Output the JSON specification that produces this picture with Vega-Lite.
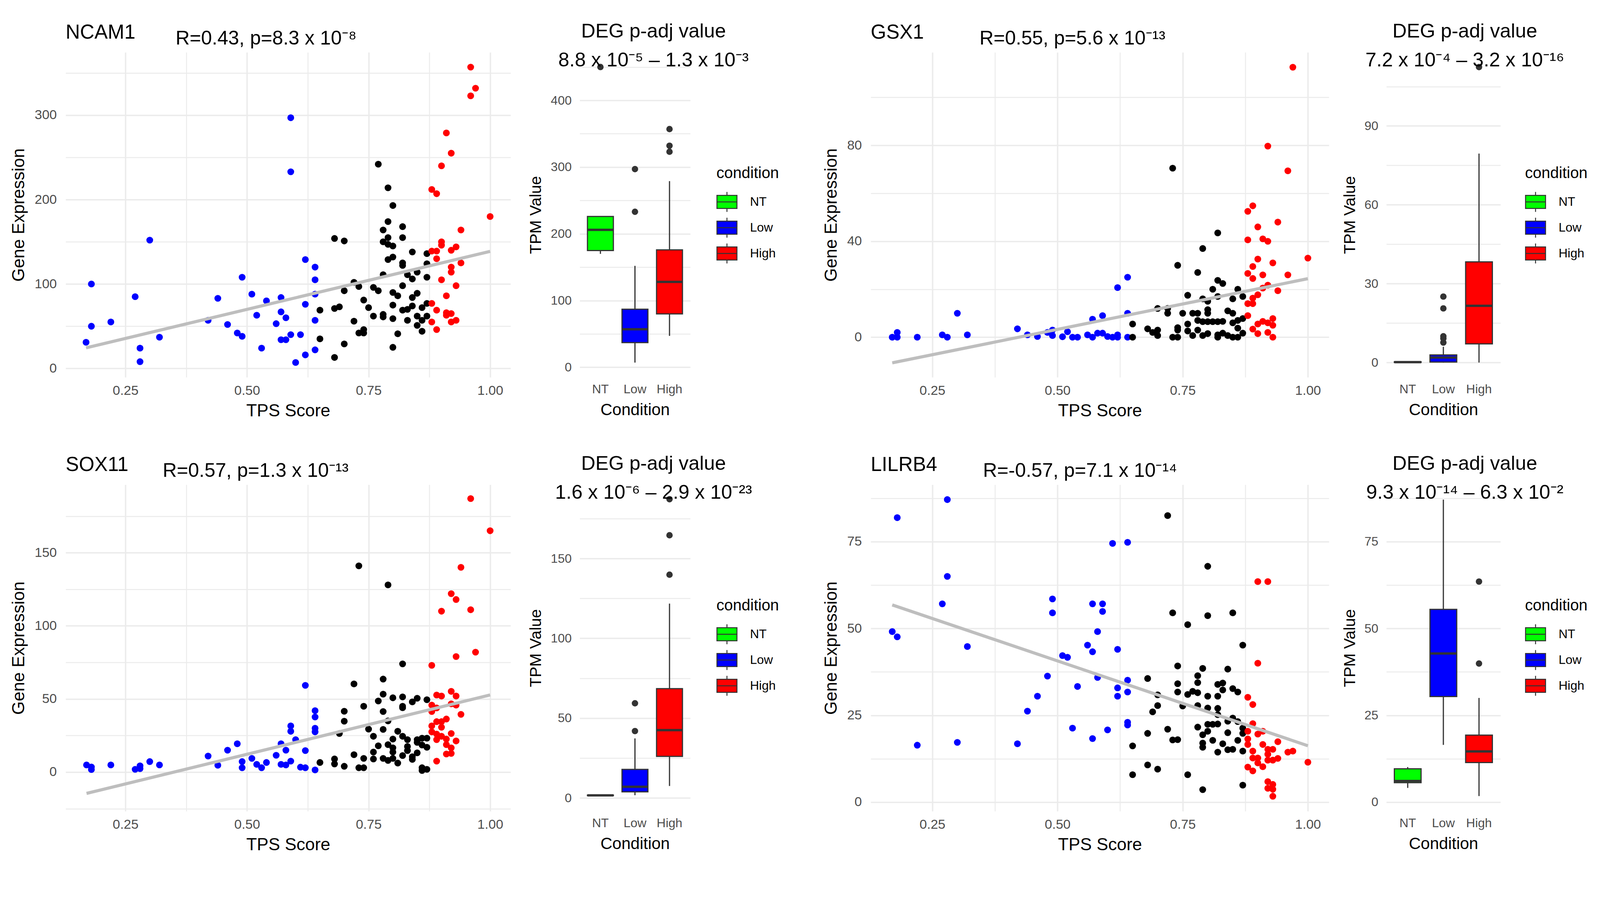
{
  "$schema": "https://vega.github.io/schema/vega-lite/v6.json",
  "padding": {"left": 25, "top": 55, "right": 0, "bottom": 0},
  "config": {
    "font": "Liberation Sans",
    "view": {"stroke": null},
    "axis": {"domain": false, "ticks": false, "tickSize": 0, "gridColor": "#EBEBEB", "labelColor": "#4D4D4D", "titleColor": "#000000", "titleFontWeight": "normal", "labelOverlap": false, "labelFlush": false},
    "title": {"fontWeight": "normal", "color": "#000000"},
    "legend": {"symbolType": "M-1,-0.65H1V0.65H-1Z M0,-0.65V-1 M0,0.65V1 M-1,0H1", "symbolSize": 2624, "symbolStrokeColor": "#333333", "symbolStrokeWidth": 2.5, "symbolOpacity": 1, "titleFontSize": 40, "titleFontWeight": "normal", "titleColor": "#000000", "labelFontSize": 32, "labelColor": "#000000", "rowPadding": 4, "labelOffset": 32, "titlePadding": 26, "padding": 0}
  },
  "datasets": {
    "ncam1": [
      {"t":0.169,"e":31,"g":"Low"},{"t":0.18,"e":100,"g":"Low"},{"t":0.18,"e":50,"g":"Low"},{"t":0.22,"e":55,"g":"Low"},{"t":0.27,"e":85,"g":"Low"},{"t":0.28,"e":24,"g":"Low"},{"t":0.28,"e":8,"g":"Low"},{"t":0.30,"e":152,"g":"Low"},{"t":0.32,"e":37,"g":"Low"},{"t":0.42,"e":57,"g":"Low"},{"t":0.44,"e":83,"g":"Low"},{"t":0.46,"e":52,"g":"Low"},{"t":0.48,"e":42,"g":"Low"},{"t":0.49,"e":108,"g":"Low"},{"t":0.49,"e":38,"g":"Low"},{"t":0.51,"e":88,"g":"Low"},{"t":0.52,"e":63,"g":"Low"},{"t":0.53,"e":24,"g":"Low"},{"t":0.54,"e":80,"g":"Low"},{"t":0.56,"e":53,"g":"Low"},{"t":0.57,"e":84,"g":"Low"},{"t":0.57,"e":67,"g":"Low"},{"t":0.57,"e":34,"g":"Low"},{"t":0.58,"e":60,"g":"Low"},{"t":0.58,"e":34,"g":"Low"},{"t":0.59,"e":297,"g":"Low"},{"t":0.59,"e":233,"g":"Low"},{"t":0.59,"e":40,"g":"Low"},{"t":0.60,"e":7,"g":"Low"},{"t":0.61,"e":40,"g":"Low"},{"t":0.62,"e":129,"g":"Low"},{"t":0.62,"e":76,"g":"Low"},{"t":0.62,"e":16,"g":"Low"},{"t":0.64,"e":120,"g":"Low"},{"t":0.64,"e":105,"g":"Low"},{"t":0.64,"e":88,"g":"Low"},{"t":0.64,"e":57,"g":"Low"},{"t":0.64,"e":22,"g":"Low"},
      {"t":0.65,"e":69,"g":"Mid"},{"t":0.65,"e":35,"g":"Mid"},{"t":0.68,"e":154,"g":"Mid"},{"t":0.68,"e":71,"g":"Mid"},{"t":0.68,"e":13,"g":"Mid"},{"t":0.69,"e":73,"g":"Mid"},{"t":0.70,"e":151,"g":"Mid"},{"t":0.70,"e":92,"g":"Mid"},{"t":0.70,"e":29,"g":"Mid"},{"t":0.72,"e":102,"g":"Mid"},{"t":0.72,"e":56,"g":"Mid"},{"t":0.73,"e":97,"g":"Mid"},{"t":0.73,"e":42,"g":"Mid"},{"t":0.74,"e":81,"g":"Mid"},{"t":0.74,"e":46,"g":"Mid"},{"t":0.74,"e":42,"g":"Mid"},{"t":0.75,"e":72,"g":"Mid"},{"t":0.76,"e":96,"g":"Mid"},{"t":0.76,"e":62,"g":"Mid"},{"t":0.77,"e":92,"g":"Mid"},{"t":0.77,"e":242,"g":"Mid"},{"t":0.78,"e":164,"g":"Mid"},{"t":0.78,"e":150,"g":"Mid"},{"t":0.78,"e":111,"g":"Mid"},{"t":0.78,"e":64,"g":"Mid"},{"t":0.78,"e":61,"g":"Mid"},{"t":0.79,"e":214,"g":"Mid"},{"t":0.79,"e":174,"g":"Mid"},{"t":0.79,"e":155,"g":"Mid"},{"t":0.79,"e":147,"g":"Mid"},{"t":0.79,"e":129,"g":"Mid"},{"t":0.80,"e":193,"g":"Mid"},{"t":0.80,"e":145,"g":"Mid"},{"t":0.80,"e":132,"g":"Mid"},{"t":0.80,"e":90,"g":"Mid"},{"t":0.80,"e":75,"g":"Mid"},{"t":0.80,"e":59,"g":"Mid"},{"t":0.80,"e":25,"g":"Mid"},{"t":0.81,"e":86,"g":"Mid"},{"t":0.81,"e":41,"g":"Mid"},{"t":0.82,"e":168,"g":"Mid"},{"t":0.82,"e":155,"g":"Mid"},{"t":0.82,"e":125,"g":"Mid"},{"t":0.82,"e":122,"g":"Mid"},{"t":0.82,"e":98,"g":"Mid"},{"t":0.82,"e":69,"g":"Mid"},{"t":0.83,"e":70,"g":"Mid"},{"t":0.83,"e":57,"g":"Mid"},{"t":0.83,"e":111,"g":"Mid"},{"t":0.84,"e":138,"g":"Mid"},{"t":0.84,"e":106,"g":"Mid"},{"t":0.84,"e":84,"g":"Mid"},{"t":0.84,"e":74,"g":"Mid"},{"t":0.85,"e":114,"g":"Mid"},{"t":0.85,"e":89,"g":"Mid"},{"t":0.85,"e":62,"g":"Mid"},{"t":0.85,"e":51,"g":"Mid"},{"t":0.86,"e":72,"g":"Mid"},{"t":0.86,"e":57,"g":"Mid"},{"t":0.86,"e":44,"g":"Mid"},{"t":0.87,"e":136,"g":"Mid"},{"t":0.87,"e":124,"g":"Mid"},{"t":0.87,"e":108,"g":"Mid"},{"t":0.87,"e":77,"g":"Mid"},{"t":0.87,"e":62,"g":"Mid"},
      {"t":0.88,"e":212,"g":"High"},{"t":0.88,"e":139,"g":"High"},{"t":0.88,"e":77,"g":"High"},{"t":0.88,"e":55,"g":"High"},{"t":0.89,"e":207,"g":"High"},{"t":0.89,"e":139,"g":"High"},{"t":0.89,"e":130,"g":"High"},{"t":0.89,"e":69,"g":"High"},{"t":0.89,"e":46,"g":"High"},{"t":0.90,"e":240,"g":"High"},{"t":0.90,"e":150,"g":"High"},{"t":0.90,"e":146,"g":"High"},{"t":0.90,"e":105,"g":"High"},{"t":0.91,"e":279,"g":"High"},{"t":0.91,"e":86,"g":"High"},{"t":0.91,"e":66,"g":"High"},{"t":0.91,"e":63,"g":"High"},{"t":0.92,"e":255,"g":"High"},{"t":0.92,"e":140,"g":"High"},{"t":0.92,"e":120,"g":"High"},{"t":0.92,"e":114,"g":"High"},{"t":0.92,"e":65,"g":"High"},{"t":0.92,"e":55,"g":"High"},{"t":0.93,"e":144,"g":"High"},{"t":0.93,"e":98,"g":"High"},{"t":0.93,"e":57,"g":"High"},{"t":0.94,"e":164,"g":"High"},{"t":0.94,"e":125,"g":"High"},{"t":0.96,"e":357,"g":"High"},{"t":0.96,"e":323,"g":"High"},{"t":0.97,"e":332,"g":"High"},{"t":1.00,"e":180,"g":"High"}
    ],
    "gsx1": [
      {"t":0.17,"e":0,"g":"Low"},{"t":0.18,"e":0,"g":"Low"},{"t":0.18,"e":2,"g":"Low"},{"t":0.22,"e":0,"g":"Low"},{"t":0.27,"e":1,"g":"Low"},{"t":0.28,"e":0,"g":"Low"},{"t":0.30,"e":10,"g":"Low"},{"t":0.32,"e":1,"g":"Low"},{"t":0.42,"e":3.5,"g":"Low"},{"t":0.44,"e":1,"g":"Low"},{"t":0.46,"e":0.3,"g":"Low"},{"t":0.48,"e":2,"g":"Low"},{"t":0.49,"e":3,"g":"Low"},{"t":0.49,"e":0.7,"g":"Low"},{"t":0.51,"e":0.2,"g":"Low"},{"t":0.52,"e":2.3,"g":"Low"},{"t":0.53,"e":0,"g":"Low"},{"t":0.54,"e":0,"g":"Low"},{"t":0.56,"e":1,"g":"Low"},{"t":0.57,"e":7.5,"g":"Low"},{"t":0.57,"e":0,"g":"Low"},{"t":0.58,"e":1.7,"g":"Low"},{"t":0.59,"e":9,"g":"Low"},{"t":0.59,"e":1.7,"g":"Low"},{"t":0.60,"e":0.3,"g":"Low"},{"t":0.61,"e":0,"g":"Low"},{"t":0.62,"e":20.7,"g":"Low"},{"t":0.62,"e":1,"g":"Low"},{"t":0.62,"e":0,"g":"Low"},{"t":0.64,"e":25,"g":"Low"},{"t":0.64,"e":10,"g":"Low"},{"t":0.64,"e":0,"g":"Low"},
      {"t":0.65,"e":5.5,"g":"Mid"},{"t":0.65,"e":0,"g":"Mid"},{"t":0.68,"e":3.5,"g":"Mid"},{"t":0.69,"e":2,"g":"Mid"},{"t":0.70,"e":12,"g":"Mid"},{"t":0.70,"e":3,"g":"Mid"},{"t":0.70,"e":0.7,"g":"Mid"},{"t":0.72,"e":12,"g":"Mid"},{"t":0.72,"e":10,"g":"Mid"},{"t":0.73,"e":70.5,"g":"Mid"},{"t":0.73,"e":0,"g":"Mid"},{"t":0.74,"e":30,"g":"Mid"},{"t":0.74,"e":4,"g":"Mid"},{"t":0.74,"e":3,"g":"Mid"},{"t":0.74,"e":0,"g":"Mid"},{"t":0.75,"e":10,"g":"Mid"},{"t":0.76,"e":17.5,"g":"Mid"},{"t":0.76,"e":5.5,"g":"Mid"},{"t":0.76,"e":2.6,"g":"Mid"},{"t":0.77,"e":10,"g":"Mid"},{"t":0.77,"e":0.7,"g":"Mid"},{"t":0.78,"e":27,"g":"Mid"},{"t":0.78,"e":10,"g":"Mid"},{"t":0.78,"e":7,"g":"Mid"},{"t":0.78,"e":3,"g":"Mid"},{"t":0.79,"e":37,"g":"Mid"},{"t":0.79,"e":16,"g":"Mid"},{"t":0.79,"e":6.5,"g":"Mid"},{"t":0.79,"e":0.7,"g":"Mid"},{"t":0.80,"e":15,"g":"Mid"},{"t":0.80,"e":11.5,"g":"Mid"},{"t":0.80,"e":10,"g":"Mid"},{"t":0.80,"e":6.5,"g":"Mid"},{"t":0.80,"e":1.5,"g":"Mid"},{"t":0.81,"e":20,"g":"Mid"},{"t":0.81,"e":6.5,"g":"Mid"},{"t":0.82,"e":43.5,"g":"Mid"},{"t":0.82,"e":23.7,"g":"Mid"},{"t":0.82,"e":17,"g":"Mid"},{"t":0.82,"e":6.5,"g":"Mid"},{"t":0.82,"e":1,"g":"Mid"},{"t":0.82,"e":0,"g":"Mid"},{"t":0.83,"e":22.4,"g":"Mid"},{"t":0.83,"e":6.6,"g":"Mid"},{"t":0.83,"e":1.7,"g":"Mid"},{"t":0.84,"e":11,"g":"Mid"},{"t":0.84,"e":0.7,"g":"Mid"},{"t":0.85,"e":16,"g":"Mid"},{"t":0.85,"e":10,"g":"Mid"},{"t":0.85,"e":6,"g":"Mid"},{"t":0.85,"e":0,"g":"Mid"},{"t":0.86,"e":20,"g":"Mid"},{"t":0.86,"e":7,"g":"Mid"},{"t":0.86,"e":3.8,"g":"Mid"},{"t":0.86,"e":0,"g":"Mid"},{"t":0.87,"e":17,"g":"Mid"},{"t":0.87,"e":7.8,"g":"Mid"},{"t":0.87,"e":1.7,"g":"Mid"},
      {"t":0.88,"e":52.5,"g":"High"},{"t":0.88,"e":40.6,"g":"High"},{"t":0.88,"e":26.6,"g":"High"},{"t":0.88,"e":14,"g":"High"},{"t":0.88,"e":9,"g":"High"},{"t":0.89,"e":54.8,"g":"High"},{"t":0.89,"e":29.5,"g":"High"},{"t":0.89,"e":24.5,"g":"High"},{"t":0.89,"e":16.3,"g":"High"},{"t":0.89,"e":14,"g":"High"},{"t":0.89,"e":3.4,"g":"High"},{"t":0.90,"e":46,"g":"High"},{"t":0.90,"e":32.6,"g":"High"},{"t":0.90,"e":17.7,"g":"High"},{"t":0.90,"e":5.5,"g":"High"},{"t":0.90,"e":1.5,"g":"High"},{"t":0.91,"e":41,"g":"High"},{"t":0.91,"e":26,"g":"High"},{"t":0.91,"e":20.5,"g":"High"},{"t":0.91,"e":6.6,"g":"High"},{"t":0.92,"e":79.7,"g":"High"},{"t":0.92,"e":40,"g":"High"},{"t":0.92,"e":21.7,"g":"High"},{"t":0.92,"e":6,"g":"High"},{"t":0.92,"e":2,"g":"High"},{"t":0.93,"e":31,"g":"High"},{"t":0.93,"e":7.8,"g":"High"},{"t":0.93,"e":5,"g":"High"},{"t":0.93,"e":0,"g":"High"},{"t":0.94,"e":48,"g":"High"},{"t":0.94,"e":19.4,"g":"High"},{"t":0.96,"e":69.4,"g":"High"},{"t":0.96,"e":26,"g":"High"},{"t":0.97,"e":112.6,"g":"High"},{"t":1.00,"e":33,"g":"High"}
    ],
    "sox11": [
      {"t":0.17,"e":4.9,"g":"Low"},{"t":0.18,"e":3.5,"g":"Low"},{"t":0.18,"e":1.8,"g":"Low"},{"t":0.22,"e":4.9,"g":"Low"},{"t":0.27,"e":1.9,"g":"Low"},{"t":0.28,"e":4.3,"g":"Low"},{"t":0.28,"e":2.4,"g":"Low"},{"t":0.30,"e":7.2,"g":"Low"},{"t":0.32,"e":4.9,"g":"Low"},{"t":0.42,"e":11,"g":"Low"},{"t":0.44,"e":4.7,"g":"Low"},{"t":0.46,"e":15,"g":"Low"},{"t":0.48,"e":19.4,"g":"Low"},{"t":0.49,"e":7.2,"g":"Low"},{"t":0.49,"e":3,"g":"Low"},{"t":0.51,"e":9.4,"g":"Low"},{"t":0.52,"e":5.3,"g":"Low"},{"t":0.53,"e":3,"g":"Low"},{"t":0.54,"e":6.6,"g":"Low"},{"t":0.56,"e":11.5,"g":"Low"},{"t":0.57,"e":19.4,"g":"Low"},{"t":0.57,"e":5.3,"g":"Low"},{"t":0.58,"e":15,"g":"Low"},{"t":0.58,"e":4.9,"g":"Low"},{"t":0.59,"e":31.6,"g":"Low"},{"t":0.59,"e":27.9,"g":"Low"},{"t":0.59,"e":7.5,"g":"Low"},{"t":0.60,"e":22.2,"g":"Low"},{"t":0.61,"e":3.4,"g":"Low"},{"t":0.62,"e":59.3,"g":"Low"},{"t":0.62,"e":14.7,"g":"Low"},{"t":0.62,"e":3,"g":"Low"},{"t":0.64,"e":42,"g":"Low"},{"t":0.64,"e":37.7,"g":"Low"},{"t":0.64,"e":30,"g":"Low"},{"t":0.64,"e":27.5,"g":"Low"},{"t":0.64,"e":1.5,"g":"Low"},
      {"t":0.65,"e":6.6,"g":"Mid"},{"t":0.68,"e":9,"g":"Mid"},{"t":0.68,"e":5.6,"g":"Mid"},{"t":0.69,"e":26.4,"g":"Mid"},{"t":0.70,"e":41.6,"g":"Mid"},{"t":0.70,"e":34.8,"g":"Mid"},{"t":0.70,"e":4,"g":"Mid"},{"t":0.72,"e":60.3,"g":"Mid"},{"t":0.72,"e":11.9,"g":"Mid"},{"t":0.73,"e":141,"g":"Mid"},{"t":0.73,"e":3,"g":"Mid"},{"t":0.74,"e":45,"g":"Mid"},{"t":0.74,"e":9.4,"g":"Mid"},{"t":0.74,"e":3,"g":"Mid"},{"t":0.75,"e":29.4,"g":"Mid"},{"t":0.76,"e":24.5,"g":"Mid"},{"t":0.76,"e":13.7,"g":"Mid"},{"t":0.76,"e":9,"g":"Mid"},{"t":0.77,"e":48.6,"g":"Mid"},{"t":0.77,"e":18,"g":"Mid"},{"t":0.78,"e":63.6,"g":"Mid"},{"t":0.78,"e":53.3,"g":"Mid"},{"t":0.78,"e":41.4,"g":"Mid"},{"t":0.78,"e":29.2,"g":"Mid"},{"t":0.78,"e":9.4,"g":"Mid"},{"t":0.79,"e":128,"g":"Mid"},{"t":0.79,"e":35,"g":"Mid"},{"t":0.79,"e":18.8,"g":"Mid"},{"t":0.79,"e":8,"g":"Mid"},{"t":0.80,"e":50.8,"g":"Mid"},{"t":0.80,"e":22.6,"g":"Mid"},{"t":0.80,"e":16.6,"g":"Mid"},{"t":0.80,"e":13.7,"g":"Mid"},{"t":0.80,"e":9.4,"g":"Mid"},{"t":0.81,"e":27.9,"g":"Mid"},{"t":0.81,"e":6.2,"g":"Mid"},{"t":0.82,"e":74,"g":"Mid"},{"t":0.82,"e":51.4,"g":"Mid"},{"t":0.82,"e":45,"g":"Mid"},{"t":0.82,"e":44,"g":"Mid"},{"t":0.82,"e":24.5,"g":"Mid"},{"t":0.82,"e":11.3,"g":"Mid"},{"t":0.83,"e":22.2,"g":"Mid"},{"t":0.83,"e":17.5,"g":"Mid"},{"t":0.83,"e":14.7,"g":"Mid"},{"t":0.84,"e":48,"g":"Mid"},{"t":0.84,"e":10.5,"g":"Mid"},{"t":0.84,"e":8.7,"g":"Mid"},{"t":0.85,"e":50.5,"g":"Mid"},{"t":0.85,"e":22.2,"g":"Mid"},{"t":0.85,"e":20.3,"g":"Mid"},{"t":0.85,"e":13.2,"g":"Mid"},{"t":0.86,"e":23.2,"g":"Mid"},{"t":0.86,"e":18.5,"g":"Mid"},{"t":0.86,"e":3,"g":"Mid"},{"t":0.86,"e":1.1,"g":"Mid"},{"t":0.87,"e":49.5,"g":"Mid"},{"t":0.87,"e":23.2,"g":"Mid"},{"t":0.87,"e":17,"g":"Mid"},{"t":0.87,"e":1.9,"g":"Mid"},
      {"t":0.88,"e":73,"g":"High"},{"t":0.88,"e":45.8,"g":"High"},{"t":0.88,"e":41.4,"g":"High"},{"t":0.88,"e":31.6,"g":"High"},{"t":0.88,"e":27.5,"g":"High"},{"t":0.89,"e":52.7,"g":"High"},{"t":0.89,"e":43.9,"g":"High"},{"t":0.89,"e":34.5,"g":"High"},{"t":0.89,"e":26,"g":"High"},{"t":0.89,"e":22.2,"g":"High"},{"t":0.89,"e":7.5,"g":"High"},{"t":0.90,"e":110,"g":"High"},{"t":0.90,"e":52,"g":"High"},{"t":0.90,"e":34.5,"g":"High"},{"t":0.90,"e":30.7,"g":"High"},{"t":0.90,"e":24.5,"g":"High"},{"t":0.91,"e":36.3,"g":"High"},{"t":0.91,"e":22.6,"g":"High"},{"t":0.91,"e":18.8,"g":"High"},{"t":0.91,"e":12.4,"g":"High"},{"t":0.92,"e":122,"g":"High"},{"t":0.92,"e":55.2,"g":"High"},{"t":0.92,"e":46.7,"g":"High"},{"t":0.92,"e":26.4,"g":"High"},{"t":0.92,"e":16.6,"g":"High"},{"t":0.92,"e":12.8,"g":"High"},{"t":0.93,"e":118,"g":"High"},{"t":0.93,"e":79,"g":"High"},{"t":0.93,"e":52,"g":"High"},{"t":0.93,"e":45.8,"g":"High"},{"t":0.93,"e":21.3,"g":"High"},{"t":0.94,"e":140,"g":"High"},{"t":0.94,"e":39.5,"g":"High"},{"t":0.96,"e":187,"g":"High"},{"t":0.96,"e":111,"g":"High"},{"t":0.97,"e":82,"g":"High"},{"t":1.00,"e":165,"g":"High"}
    ],
    "lilrb4": [
      {"t":0.17,"e":49.1,"g":"Low"},{"t":0.18,"e":81.9,"g":"Low"},{"t":0.18,"e":47.6,"g":"Low"},{"t":0.22,"e":16.4,"g":"Low"},{"t":0.27,"e":57.1,"g":"Low"},{"t":0.28,"e":87.1,"g":"Low"},{"t":0.28,"e":65,"g":"Low"},{"t":0.30,"e":17.2,"g":"Low"},{"t":0.32,"e":44.8,"g":"Low"},{"t":0.42,"e":16.8,"g":"Low"},{"t":0.44,"e":26.2,"g":"Low"},{"t":0.46,"e":30.5,"g":"Low"},{"t":0.48,"e":36.3,"g":"Low"},{"t":0.49,"e":58.5,"g":"Low"},{"t":0.49,"e":54.5,"g":"Low"},{"t":0.51,"e":42.2,"g":"Low"},{"t":0.52,"e":41.7,"g":"Low"},{"t":0.53,"e":21.3,"g":"Low"},{"t":0.54,"e":33.3,"g":"Low"},{"t":0.56,"e":45.2,"g":"Low"},{"t":0.57,"e":57.1,"g":"Low"},{"t":0.57,"e":43.3,"g":"Low"},{"t":0.57,"e":18.3,"g":"Low"},{"t":0.58,"e":49.1,"g":"Low"},{"t":0.58,"e":35.9,"g":"Low"},{"t":0.59,"e":57.1,"g":"Low"},{"t":0.59,"e":54.9,"g":"Low"},{"t":0.60,"e":20.8,"g":"Low"},{"t":0.61,"e":74.5,"g":"Low"},{"t":0.62,"e":44,"g":"Low"},{"t":0.62,"e":32.9,"g":"Low"},{"t":0.62,"e":30.5,"g":"Low"},{"t":0.64,"e":74.8,"g":"Low"},{"t":0.64,"e":35.1,"g":"Low"},{"t":0.64,"e":31.7,"g":"Low"},{"t":0.64,"e":23,"g":"Low"},{"t":0.64,"e":22.2,"g":"Low"},
      {"t":0.65,"e":16.2,"g":"Mid"},{"t":0.65,"e":7.9,"g":"Mid"},{"t":0.68,"e":35.6,"g":"Mid"},{"t":0.68,"e":19.8,"g":"Mid"},{"t":0.68,"e":10.7,"g":"Mid"},{"t":0.69,"e":26,"g":"Mid"},{"t":0.70,"e":30.9,"g":"Mid"},{"t":0.70,"e":27.8,"g":"Mid"},{"t":0.70,"e":9.5,"g":"Mid"},{"t":0.72,"e":82.5,"g":"Mid"},{"t":0.72,"e":21,"g":"Mid"},{"t":0.73,"e":54.5,"g":"Mid"},{"t":0.73,"e":17.9,"g":"Mid"},{"t":0.74,"e":39.2,"g":"Mid"},{"t":0.74,"e":34.1,"g":"Mid"},{"t":0.74,"e":31.7,"g":"Mid"},{"t":0.74,"e":18,"g":"Mid"},{"t":0.75,"e":27.7,"g":"Mid"},{"t":0.76,"e":51.1,"g":"Mid"},{"t":0.76,"e":31,"g":"Mid"},{"t":0.76,"e":7.9,"g":"Mid"},{"t":0.77,"e":31.9,"g":"Mid"},{"t":0.78,"e":36.4,"g":"Mid"},{"t":0.78,"e":34.4,"g":"Mid"},{"t":0.78,"e":31.5,"g":"Mid"},{"t":0.78,"e":27.8,"g":"Mid"},{"t":0.78,"e":21.6,"g":"Mid"},{"t":0.79,"e":38.5,"g":"Mid"},{"t":0.79,"e":19.4,"g":"Mid"},{"t":0.79,"e":17,"g":"Mid"},{"t":0.79,"e":15.8,"g":"Mid"},{"t":0.79,"e":3.6,"g":"Mid"},{"t":0.80,"e":67.9,"g":"Mid"},{"t":0.80,"e":53.7,"g":"Mid"},{"t":0.80,"e":30.5,"g":"Mid"},{"t":0.80,"e":27.1,"g":"Mid"},{"t":0.80,"e":22.4,"g":"Mid"},{"t":0.80,"e":20.4,"g":"Mid"},{"t":0.81,"e":22.4,"g":"Mid"},{"t":0.81,"e":17.8,"g":"Mid"},{"t":0.82,"e":33.9,"g":"Mid"},{"t":0.82,"e":30.5,"g":"Mid"},{"t":0.82,"e":27,"g":"Mid"},{"t":0.82,"e":25.2,"g":"Mid"},{"t":0.82,"e":22.5,"g":"Mid"},{"t":0.82,"e":14.4,"g":"Mid"},{"t":0.83,"e":34.3,"g":"Mid"},{"t":0.83,"e":32.3,"g":"Mid"},{"t":0.83,"e":16.8,"g":"Mid"},{"t":0.84,"e":38.3,"g":"Mid"},{"t":0.84,"e":23.3,"g":"Mid"},{"t":0.84,"e":20,"g":"Mid"},{"t":0.84,"e":15.1,"g":"Mid"},{"t":0.85,"e":54.5,"g":"Mid"},{"t":0.85,"e":32.7,"g":"Mid"},{"t":0.85,"e":24.2,"g":"Mid"},{"t":0.85,"e":15.2,"g":"Mid"},{"t":0.86,"e":31.7,"g":"Mid"},{"t":0.86,"e":23.2,"g":"Mid"},{"t":0.86,"e":17.8,"g":"Mid"},{"t":0.87,"e":45.2,"g":"Mid"},{"t":0.87,"e":21.3,"g":"Mid"},{"t":0.87,"e":19.8,"g":"Mid"},{"t":0.87,"e":14.7,"g":"Mid"},{"t":0.87,"e":4.9,"g":"Mid"},
      {"t":0.88,"e":30.2,"g":"High"},{"t":0.88,"e":20.4,"g":"High"},{"t":0.88,"e":18.2,"g":"High"},{"t":0.88,"e":16.6,"g":"High"},{"t":0.88,"e":10.1,"g":"High"},{"t":0.89,"e":28.1,"g":"High"},{"t":0.89,"e":22.6,"g":"High"},{"t":0.89,"e":14.7,"g":"High"},{"t":0.89,"e":12.7,"g":"High"},{"t":0.89,"e":9,"g":"High"},{"t":0.90,"e":63.5,"g":"High"},{"t":0.90,"e":40,"g":"High"},{"t":0.90,"e":19.6,"g":"High"},{"t":0.90,"e":12.7,"g":"High"},{"t":0.90,"e":11.3,"g":"High"},{"t":0.91,"e":20.4,"g":"High"},{"t":0.91,"e":16.6,"g":"High"},{"t":0.91,"e":10.2,"g":"High"},{"t":0.92,"e":63.5,"g":"High"},{"t":0.92,"e":15.2,"g":"High"},{"t":0.92,"e":13.8,"g":"High"},{"t":0.92,"e":12.1,"g":"High"},{"t":0.92,"e":5.9,"g":"High"},{"t":0.92,"e":4,"g":"High"},{"t":0.93,"e":15.2,"g":"High"},{"t":0.93,"e":12.1,"g":"High"},{"t":0.93,"e":5.1,"g":"High"},{"t":0.93,"e":3.7,"g":"High"},{"t":0.93,"e":1.7,"g":"High"},{"t":0.94,"e":17.4,"g":"High"},{"t":0.94,"e":12.6,"g":"High"},{"t":0.96,"e":14.4,"g":"High"},{"t":0.97,"e":14.7,"g":"High"},{"t":1.00,"e":11.5,"g":"High"}
    ],
    "boxes": [
      {"gene":"NCAM1","c":"NT","lo":170,"q1":175,"med":206,"q3":226,"hi":226},
      {"gene":"NCAM1","c":"Low","lo":7,"q1":37,"med":57,"q3":87,"hi":152},
      {"gene":"NCAM1","c":"High","lo":47,"q1":80,"med":128,"q3":176,"hi":279},
      {"gene":"GSX1","c":"NT","lo":0,"q1":0.05,"med":0.15,"q3":0.3,"hi":0.4},
      {"gene":"GSX1","c":"Low","lo":0,"q1":0.2,"med":1.9,"q3":2.9,"hi":6},
      {"gene":"GSX1","c":"High","lo":0,"q1":7.1,"med":21.6,"q3":38.3,"hi":79.5},
      {"gene":"SOX11","c":"NT","lo":1,"q1":1.4,"med":1.6,"q3":1.8,"hi":2.1},
      {"gene":"SOX11","c":"Low","lo":1.7,"q1":3.8,"med":7,"q3":17.9,"hi":37.3},
      {"gene":"SOX11","c":"High","lo":7.5,"q1":26,"med":42.5,"q3":68.5,"hi":121.8},
      {"gene":"LILRB4","c":"NT","lo":4.1,"q1":5.6,"med":6.1,"q3":9.6,"hi":10.1},
      {"gene":"LILRB4","c":"Low","lo":16.5,"q1":30.4,"med":42.8,"q3":55.5,"hi":87.1},
      {"gene":"LILRB4","c":"High","lo":1.75,"q1":11.4,"med":14.6,"q3":19.3,"hi":30}
    ],
    "outs": [
      {"gene":"NCAM1","c":"NT","v":450},{"gene":"NCAM1","c":"Low","v":233},{"gene":"NCAM1","c":"Low","v":297},{"gene":"NCAM1","c":"High","v":323},{"gene":"NCAM1","c":"High","v":332},{"gene":"NCAM1","c":"High","v":357},
      {"gene":"GSX1","c":"Low","v":7.6},{"gene":"GSX1","c":"Low","v":9.2},{"gene":"GSX1","c":"Low","v":10},{"gene":"GSX1","c":"Low","v":20.6},{"gene":"GSX1","c":"Low","v":25.1},{"gene":"GSX1","c":"High","v":112.4},
      {"gene":"SOX11","c":"Low","v":41.9},{"gene":"SOX11","c":"Low","v":59.3},{"gene":"SOX11","c":"High","v":139.9},{"gene":"SOX11","c":"High","v":164.6},{"gene":"SOX11","c":"High","v":187.2},
      {"gene":"LILRB4","c":"High","v":39.9},{"gene":"LILRB4","c":"High","v":63.5}
    ]
  },
  "columns": 7,
  "spacing": {"row": 275, "column": 0},
  "bounds": "flush",
  "align": "each",
  "resolve": {"scale": {"x": "independent", "y": "independent", "color": "independent"}, "axis": {"x": "independent", "y": "independent"}, "legend": {"color": "independent"}},
  "concat": [
    {
      "width": 1139, "height": 832,
      "data": {"name": "ncam1"},
      "title": {"text": "NCAM1", "anchor": "start", "frame": "group", "fontSize": 51, "offset": -37},
      "resolve": {"axis": {"x": "independent"}},
      "layer": [
        {"mark": {"type": "point", "filled": true, "size": 300, "opacity": 1},
         "encoding": {
           "x": {"field": "t", "type": "quantitative", "scale": {"domain": [0.127, 1.042], "nice": false, "zero": false}, "axis": {"title": "TPS Score", "values": [0.25,0.375,0.5,0.625,0.75,0.875,1], "labelExpr": "indexof([0.25,0.5,0.75,1], datum.value) >= 0 ? format(datum.value, '.2f') : ''", "gridWidth": {"condition": {"test": "indexof([0.25,0.5,0.75,1], datum.value) >= 0", "value": 3.6}, "value": 2.4}, "labelFontSize": 34, "labelPadding": 17, "titleFontSize": 44.5, "titleY": 99, "titleBaseline": "alphabetic"}},
           "y": {"field": "e", "type": "quantitative", "scale": {"domain": [-10.5, 374.5], "nice": false, "zero": false}, "axis": {"title": "Gene Expression", "values": [0,50,100,150,200,250,300,350], "labelExpr": "datum.value % 100 === 0 ? datum.label : ''", "gridWidth": {"condition": {"test": "datum.value % 100 === 0", "value": 3.6}, "value": 2.4}, "labelFontSize": 34, "labelPadding": 23, "titleFontSize": 44.5, "titleX": -120, "titleBaseline": "middle"}},
           "color": {"field": "g", "type": "nominal", "scale": {"domain": ["Low","Mid","High"], "range": ["#0000FF","#000000","#FF0000"]}, "legend": null}
         }},
        {"transform": [{"regression": "e", "on": "t"}],
         "mark": {"type": "line", "color": "#BEBEBE", "strokeWidth": 8},
         "encoding": {"x": {"field": "t", "type": "quantitative", "axis": {"orient": "top", "title": "R=0.43, p=8.3 x 10\u207b\u2078", "labels": false, "grid": false, "titleFontSize": 50, "titleX": 281, "titleY": -21, "titleAnchor": "start", "titleAlign": "left", "titleBaseline": "alphabetic"}}, "y": {"field": "e", "type": "quantitative", "axis": {"title": "Gene Expression"}}}}
      ]
    },
    {"width": 177, "height": 832, "data": {"values": []}, "mark": "point"},
    {
      "width": 283, "height": 832,
      "title": {"text": ["DEG p-adj value", "8.8 x 10\u207b\u2075 \u2013 1.3 x 10\u207b\u00b3"], "anchor": "middle", "frame": "bounds", "fontSize": 50.5, "lineHeight": 74, "offset": -46},
      "layer": [
        {"data": {"name": "boxes"}, "transform": [{"filter": "datum.gene === 'NCAM1'"}],
         "mark": {"type": "rule", "color": "#333333", "strokeWidth": 3},
         "encoding": {
           "x": {"field": "c", "type": "nominal", "sort": ["NT","Low","High"], "scale": {"domain": ["NT","Low","High"], "paddingInner": 0, "paddingOuter": 0.1}, "axis": {"title": "Condition", "bandPosition": 0.5, "gridWidth": 3.6, "labelAngle": 0, "labelFontSize": 32, "labelPadding": 15, "titleFontSize": 42, "titleY": 96, "titleBaseline": "alphabetic"}},
           "y": {"field": "lo", "type": "quantitative", "scale": {"domain": [-15, 472], "nice": false, "zero": false}, "axis": {"title": "TPM Value", "values": [0,50,100,150,200,250,300,350,400,450], "labelExpr": "datum.value % 100 === 0 ? datum.label : ''", "gridWidth": {"condition": {"test": "datum.value % 100 === 0", "value": 3.6}, "value": 2.4}, "labelFontSize": 32, "labelPadding": 21, "titleFontSize": 41, "titleX": -112, "titleBaseline": "middle"}},
           "y2": {"field": "hi"}
         }},
        {"data": {"name": "boxes"}, "transform": [{"filter": "datum.gene === 'NCAM1'"}],
         "mark": {"type": "bar", "stroke": "#333333", "strokeWidth": 3, "width": {"band": 0.75}},
         "encoding": {
           "x": {"field": "c", "type": "nominal", "sort": ["NT","Low","High"], "axis": {"title": "Condition"}},
           "y": {"field": "q1", "type": "quantitative", "axis": {"title": "TPM Value"}},
           "y2": {"field": "q3"},
           "color": {"field": "c", "type": "nominal", "scale": {"domain": ["NT","Low","High"], "range": ["#00FF00","#0000FF","#FF0000"]}, "legend": {"title": "condition", "orient": "none", "legendX": 350, "legendY": 290}}
         }},
        {"data": {"name": "boxes"}, "transform": [{"filter": "datum.gene === 'NCAM1'"}],
         "mark": {"type": "tick", "color": "#333333", "size": 66, "thickness": 6, "opacity": 1},
         "encoding": {
           "x": {"field": "c", "type": "nominal", "sort": ["NT","Low","High"], "axis": {"title": "Condition"}},
           "y": {"field": "med", "type": "quantitative", "axis": {"title": "TPM Value"}}
         }},
        {"data": {"name": "outs"}, "transform": [{"filter": "datum.gene === 'NCAM1'"}],
         "mark": {"type": "point", "filled": true, "size": 270, "color": "#333333", "opacity": 1},
         "encoding": {
           "x": {"field": "c", "type": "nominal", "sort": ["NT","Low","High"], "axis": {"title": "Condition"}},
           "y": {"field": "v", "type": "quantitative", "axis": {"title": "TPM Value"}}
         }}
      ]
    },
    {"width": 462, "height": 832, "data": {"values": []}, "mark": "point"},
    {
      "width": 1173, "height": 832,
      "data": {"name": "gsx1"},
      "title": {"text": "GSX1", "anchor": "start", "frame": "group", "fontSize": 51, "offset": -37},
      "resolve": {"axis": {"x": "independent"}},
      "layer": [
        {"mark": {"type": "point", "filled": true, "size": 300, "opacity": 1},
         "encoding": {
           "x": {"field": "t", "type": "quantitative", "scale": {"domain": [0.127, 1.042], "nice": false, "zero": false}, "axis": {"title": "TPS Score", "values": [0.25,0.375,0.5,0.625,0.75,0.875,1], "labelExpr": "indexof([0.25,0.5,0.75,1], datum.value) >= 0 ? format(datum.value, '.2f') : ''", "gridWidth": {"condition": {"test": "indexof([0.25,0.5,0.75,1], datum.value) >= 0", "value": 3.6}, "value": 2.4}, "labelFontSize": 34, "labelPadding": 17, "titleFontSize": 44.5, "titleY": 99, "titleBaseline": "alphabetic"}},
           "y": {"field": "e", "type": "quantitative", "scale": {"domain": [-16.7, 118.8], "nice": false, "zero": false}, "axis": {"title": "Gene Expression", "values": [0,20,40,60,80,100], "labelExpr": "datum.value % 40 === 0 ? datum.label : ''", "gridWidth": {"condition": {"test": "datum.value % 40 === 0", "value": 3.6}, "value": 2.4}, "labelFontSize": 34, "labelPadding": 23, "titleFontSize": 44.5, "titleX": -101, "titleBaseline": "middle"}},
           "color": {"field": "g", "type": "nominal", "scale": {"domain": ["Low","Mid","High"], "range": ["#0000FF","#000000","#FF0000"]}, "legend": null}
         }},
        {"transform": [{"regression": "e", "on": "t"}],
         "mark": {"type": "line", "color": "#BEBEBE", "strokeWidth": 8},
         "encoding": {"x": {"field": "t", "type": "quantitative", "axis": {"orient": "top", "title": "R=0.55, p=5.6 x 10\u207b\u00b9\u00b3", "labels": false, "grid": false, "titleFontSize": 50, "titleX": 278, "titleY": -21, "titleAnchor": "start", "titleAlign": "left", "titleBaseline": "alphabetic"}}, "y": {"field": "e", "type": "quantitative", "axis": {"title": "Gene Expression"}}}}
      ]
    },
    {"width": 147, "height": 832, "data": {"values": []}, "mark": "point"},
    {
      "width": 292, "height": 832,
      "title": {"text": ["DEG p-adj value", "7.2 x 10\u207b\u2074 \u2013 3.2 x 10\u207b\u00b9\u2076"], "anchor": "middle", "frame": "bounds", "fontSize": 50.5, "lineHeight": 74, "offset": -46},
      "layer": [
        {"data": {"name": "boxes"}, "transform": [{"filter": "datum.gene === 'GSX1'"}],
         "mark": {"type": "rule", "color": "#333333", "strokeWidth": 3},
         "encoding": {
           "x": {"field": "c", "type": "nominal", "sort": ["NT","Low","High"], "scale": {"domain": ["NT","Low","High"], "paddingInner": 0, "paddingOuter": 0.1}, "axis": {"title": "Condition", "bandPosition": 0.5, "gridWidth": 3.6, "labelAngle": 0, "labelFontSize": 32, "labelPadding": 15, "titleFontSize": 42, "titleY": 96, "titleBaseline": "alphabetic"}},
           "y": {"field": "lo", "type": "quantitative", "scale": {"domain": [-5.6, 118], "nice": false, "zero": false}, "axis": {"title": "TPM Value", "values": [0,15,30,45,60,75,90,105], "labelExpr": "datum.value % 30 === 0 ? datum.label : ''", "gridWidth": {"condition": {"test": "datum.value % 30 === 0", "value": 3.6}, "value": 2.4}, "labelFontSize": 32, "labelPadding": 21, "titleFontSize": 41, "titleX": -93, "titleBaseline": "middle"}},
           "y2": {"field": "hi"}
         }},
        {"data": {"name": "boxes"}, "transform": [{"filter": "datum.gene === 'GSX1'"}],
         "mark": {"type": "bar", "stroke": "#333333", "strokeWidth": 3, "width": {"band": 0.75}},
         "encoding": {
           "x": {"field": "c", "type": "nominal", "sort": ["NT","Low","High"], "axis": {"title": "Condition"}},
           "y": {"field": "q1", "type": "quantitative", "axis": {"title": "TPM Value"}},
           "y2": {"field": "q3"},
           "color": {"field": "c", "type": "nominal", "scale": {"domain": ["NT","Low","High"], "range": ["#00FF00","#0000FF","#FF0000"]}, "legend": {"title": "condition", "orient": "none", "legendX": 355, "legendY": 290}}
         }},
        {"data": {"name": "boxes"}, "transform": [{"filter": "datum.gene === 'GSX1'"}],
         "mark": {"type": "tick", "color": "#333333", "size": 68, "thickness": 6, "opacity": 1},
         "encoding": {
           "x": {"field": "c", "type": "nominal", "sort": ["NT","Low","High"], "axis": {"title": "Condition"}},
           "y": {"field": "med", "type": "quantitative", "axis": {"title": "TPM Value"}}
         }},
        {"data": {"name": "outs"}, "transform": [{"filter": "datum.gene === 'GSX1'"}],
         "mark": {"type": "point", "filled": true, "size": 270, "color": "#333333", "opacity": 1},
         "encoding": {
           "x": {"field": "c", "type": "nominal", "sort": ["NT","Low","High"], "axis": {"title": "Condition"}},
           "y": {"field": "v", "type": "quantitative", "axis": {"title": "TPM Value"}}
         }}
      ]
    },
    {
      "width": 1139, "height": 836,
      "data": {"name": "sox11"},
      "title": {"text": "SOX11", "anchor": "start", "frame": "group", "fontSize": 51, "offset": -37},
      "resolve": {"axis": {"x": "independent"}},
      "layer": [
        {"mark": {"type": "point", "filled": true, "size": 300, "opacity": 1},
         "encoding": {
           "x": {"field": "t", "type": "quantitative", "scale": {"domain": [0.127, 1.042], "nice": false, "zero": false}, "axis": {"title": "TPS Score", "values": [0.25,0.375,0.5,0.625,0.75,0.875,1], "labelExpr": "indexof([0.25,0.5,0.75,1], datum.value) >= 0 ? format(datum.value, '.2f') : ''", "gridWidth": {"condition": {"test": "indexof([0.25,0.5,0.75,1], datum.value) >= 0", "value": 3.6}, "value": 2.4}, "labelFontSize": 34, "labelPadding": 17, "titleFontSize": 44.5, "titleY": 99, "titleBaseline": "alphabetic"}},
           "y": {"field": "e", "type": "quantitative", "scale": {"domain": [-26.7, 196.5], "nice": false, "zero": false}, "axis": {"title": "Gene Expression", "values": [-25,0,25,50,75,100,125,150,175], "labelExpr": "datum.value % 50 === 0 ? datum.label : ''", "gridWidth": {"condition": {"test": "datum.value % 50 === 0", "value": 3.6}, "value": 2.4}, "labelFontSize": 34, "labelPadding": 23, "titleFontSize": 44.5, "titleX": -120, "titleBaseline": "middle"}},
           "color": {"field": "g", "type": "nominal", "scale": {"domain": ["Low","Mid","High"], "range": ["#0000FF","#000000","#FF0000"]}, "legend": null}
         }},
        {"transform": [{"regression": "e", "on": "t"}],
         "mark": {"type": "line", "color": "#BEBEBE", "strokeWidth": 8},
         "encoding": {"x": {"field": "t", "type": "quantitative", "axis": {"orient": "top", "title": "R=0.57, p=1.3 x 10\u207b\u00b9\u00b3", "labels": false, "grid": false, "titleFontSize": 50, "titleX": 248, "titleY": -21, "titleAnchor": "start", "titleAlign": "left", "titleBaseline": "alphabetic"}}, "y": {"field": "e", "type": "quantitative", "axis": {"title": "Gene Expression"}}}}
      ]
    },
    {"width": 177, "height": 836, "data": {"values": []}, "mark": "point"},
    {
      "width": 283, "height": 836,
      "title": {"text": ["DEG p-adj value", "1.6 x 10\u207b\u2076 \u2013 2.9 x 10\u207b\u00b2\u00b3"], "anchor": "middle", "frame": "bounds", "fontSize": 50.5, "lineHeight": 74, "offset": -46},
      "layer": [
        {"data": {"name": "boxes"}, "transform": [{"filter": "datum.gene === 'SOX11'"}],
         "mark": {"type": "rule", "color": "#333333", "strokeWidth": 3},
         "encoding": {
           "x": {"field": "c", "type": "nominal", "sort": ["NT","Low","High"], "scale": {"domain": ["NT","Low","High"], "paddingInner": 0, "paddingOuter": 0.1}, "axis": {"title": "Condition", "bandPosition": 0.5, "gridWidth": 3.6, "labelAngle": 0, "labelFontSize": 32, "labelPadding": 15, "titleFontSize": 42, "titleY": 96, "titleBaseline": "alphabetic"}},
           "y": {"field": "lo", "type": "quantitative", "scale": {"domain": [-8.3, 196.3], "nice": false, "zero": false}, "axis": {"title": "TPM Value", "values": [0,25,50,75,100,125,150,175], "labelExpr": "datum.value % 50 === 0 ? datum.label : ''", "gridWidth": {"condition": {"test": "datum.value % 50 === 0", "value": 3.6}, "value": 2.4}, "labelFontSize": 32, "labelPadding": 21, "titleFontSize": 41, "titleX": -112, "titleBaseline": "middle"}},
           "y2": {"field": "hi"}
         }},
        {"data": {"name": "boxes"}, "transform": [{"filter": "datum.gene === 'SOX11'"}],
         "mark": {"type": "bar", "stroke": "#333333", "strokeWidth": 3, "width": {"band": 0.75}},
         "encoding": {
           "x": {"field": "c", "type": "nominal", "sort": ["NT","Low","High"], "axis": {"title": "Condition"}},
           "y": {"field": "q1", "type": "quantitative", "axis": {"title": "TPM Value"}},
           "y2": {"field": "q3"},
           "color": {"field": "c", "type": "nominal", "scale": {"domain": ["NT","Low","High"], "range": ["#00FF00","#0000FF","#FF0000"]}, "legend": {"title": "condition", "orient": "none", "legendX": 350, "legendY": 290}}
         }},
        {"data": {"name": "boxes"}, "transform": [{"filter": "datum.gene === 'SOX11'"}],
         "mark": {"type": "tick", "color": "#333333", "size": 66, "thickness": 6, "opacity": 1},
         "encoding": {
           "x": {"field": "c", "type": "nominal", "sort": ["NT","Low","High"], "axis": {"title": "Condition"}},
           "y": {"field": "med", "type": "quantitative", "axis": {"title": "TPM Value"}}
         }},
        {"data": {"name": "outs"}, "transform": [{"filter": "datum.gene === 'SOX11'"}],
         "mark": {"type": "point", "filled": true, "size": 270, "color": "#333333", "opacity": 1},
         "encoding": {
           "x": {"field": "c", "type": "nominal", "sort": ["NT","Low","High"], "axis": {"title": "Condition"}},
           "y": {"field": "v", "type": "quantitative", "axis": {"title": "TPM Value"}}
         }}
      ]
    },
    {"width": 462, "height": 836, "data": {"values": []}, "mark": "point"},
    {
      "width": 1173, "height": 836,
      "data": {"name": "lilrb4"},
      "title": {"text": "LILRB4", "anchor": "start", "frame": "group", "fontSize": 51, "offset": -37},
      "resolve": {"axis": {"x": "independent"}},
      "layer": [
        {"mark": {"type": "point", "filled": true, "size": 300, "opacity": 1},
         "encoding": {
           "x": {"field": "t", "type": "quantitative", "scale": {"domain": [0.127, 1.042], "nice": false, "zero": false}, "axis": {"title": "TPS Score", "values": [0.25,0.375,0.5,0.625,0.75,0.875,1], "labelExpr": "indexof([0.25,0.5,0.75,1], datum.value) >= 0 ? format(datum.value, '.2f') : ''", "gridWidth": {"condition": {"test": "indexof([0.25,0.5,0.75,1], datum.value) >= 0", "value": 3.6}, "value": 2.4}, "labelFontSize": 34, "labelPadding": 17, "titleFontSize": 44.5, "titleY": 99, "titleBaseline": "alphabetic"}},
           "y": {"field": "e", "type": "quantitative", "scale": {"domain": [-2.6, 91.4], "nice": false, "zero": false}, "axis": {"title": "Gene Expression", "values": [0,12.5,25,37.5,50,62.5,75,87.5], "labelExpr": "datum.value % 25 === 0 ? datum.label : ''", "gridWidth": {"condition": {"test": "datum.value % 25 === 0", "value": 3.6}, "value": 2.4}, "labelFontSize": 34, "labelPadding": 23, "titleFontSize": 44.5, "titleX": -101, "titleBaseline": "middle"}},
           "color": {"field": "g", "type": "nominal", "scale": {"domain": ["Low","Mid","High"], "range": ["#0000FF","#000000","#FF0000"]}, "legend": null}
         }},
        {"transform": [{"regression": "e", "on": "t"}],
         "mark": {"type": "line", "color": "#BEBEBE", "strokeWidth": 8},
         "encoding": {"x": {"field": "t", "type": "quantitative", "axis": {"orient": "top", "title": "R=-0.57, p=7.1 x 10\u207b\u00b9\u2074", "labels": false, "grid": false, "titleFontSize": 50, "titleX": 287, "titleY": -21, "titleAnchor": "start", "titleAlign": "left", "titleBaseline": "alphabetic"}}, "y": {"field": "e", "type": "quantitative", "axis": {"title": "Gene Expression"}}}}
      ]
    },
    {"width": 147, "height": 836, "data": {"values": []}, "mark": "point"},
    {
      "width": 292, "height": 836,
      "title": {"text": ["DEG p-adj value", "9.3 x 10\u207b\u00b9\u2074 \u2013 6.3 x 10\u207b\u00b2"], "anchor": "middle", "frame": "bounds", "fontSize": 50.5, "lineHeight": 74, "offset": -46},
      "layer": [
        {"data": {"name": "boxes"}, "transform": [{"filter": "datum.gene === 'LILRB4'"}],
         "mark": {"type": "rule", "color": "#333333", "strokeWidth": 3},
         "encoding": {
           "x": {"field": "c", "type": "nominal", "sort": ["NT","Low","High"], "scale": {"domain": ["NT","Low","High"], "paddingInner": 0, "paddingOuter": 0.1}, "axis": {"title": "Condition", "bandPosition": 0.5, "gridWidth": 3.6, "labelAngle": 0, "labelFontSize": 32, "labelPadding": 15, "titleFontSize": 42, "titleY": 96, "titleBaseline": "alphabetic"}},
           "y": {"field": "lo", "type": "quantitative", "scale": {"domain": [-2.6, 91.4], "nice": false, "zero": false}, "axis": {"title": "TPM Value", "values": [0,12.5,25,37.5,50,62.5,75,87.5], "labelExpr": "datum.value % 25 === 0 ? datum.label : ''", "gridWidth": {"condition": {"test": "datum.value % 25 === 0", "value": 3.6}, "value": 2.4}, "labelFontSize": 32, "labelPadding": 21, "titleFontSize": 41, "titleX": -93, "titleBaseline": "middle"}},
           "y2": {"field": "hi"}
         }},
        {"data": {"name": "boxes"}, "transform": [{"filter": "datum.gene === 'LILRB4'"}],
         "mark": {"type": "bar", "stroke": "#333333", "strokeWidth": 3, "width": {"band": 0.75}},
         "encoding": {
           "x": {"field": "c", "type": "nominal", "sort": ["NT","Low","High"], "axis": {"title": "Condition"}},
           "y": {"field": "q1", "type": "quantitative", "axis": {"title": "TPM Value"}},
           "y2": {"field": "q3"},
           "color": {"field": "c", "type": "nominal", "scale": {"domain": ["NT","Low","High"], "range": ["#00FF00","#0000FF","#FF0000"]}, "legend": {"title": "condition", "orient": "none", "legendX": 355, "legendY": 290}}
         }},
        {"data": {"name": "boxes"}, "transform": [{"filter": "datum.gene === 'LILRB4'"}],
         "mark": {"type": "tick", "color": "#333333", "size": 68, "thickness": 6, "opacity": 1},
         "encoding": {
           "x": {"field": "c", "type": "nominal", "sort": ["NT","Low","High"], "axis": {"title": "Condition"}},
           "y": {"field": "med", "type": "quantitative", "axis": {"title": "TPM Value"}}
         }},
        {"data": {"name": "outs"}, "transform": [{"filter": "datum.gene === 'LILRB4'"}],
         "mark": {"type": "point", "filled": true, "size": 270, "color": "#333333", "opacity": 1},
         "encoding": {
           "x": {"field": "c", "type": "nominal", "sort": ["NT","Low","High"], "axis": {"title": "Condition"}},
           "y": {"field": "v", "type": "quantitative", "axis": {"title": "TPM Value"}}
         }}
      ]
    }
  ]
}
